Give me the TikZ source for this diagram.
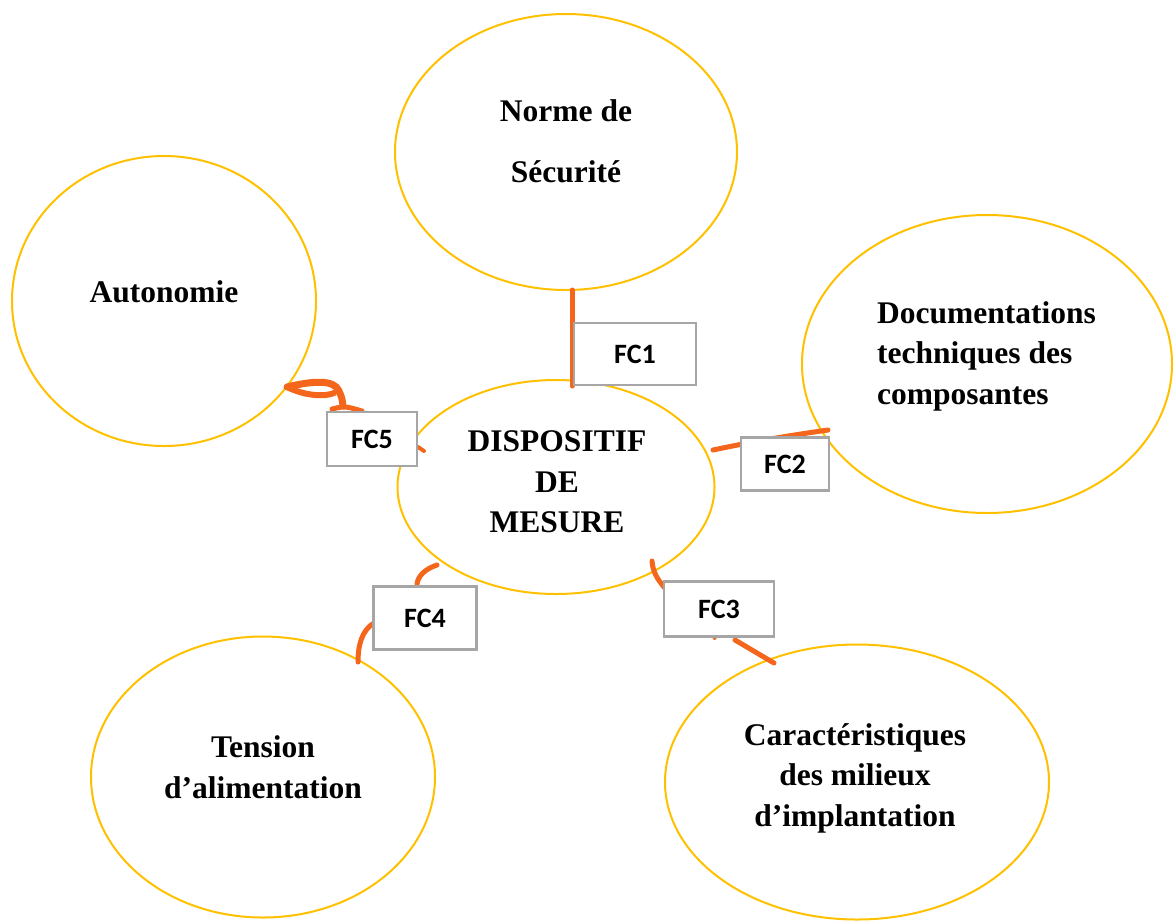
\documentclass[tikz,border=0pt]{standalone}
\usepackage{fontspec}
\setmainfont{Liberation Serif}
\newfontfamily\fcfont{Carlito}
\usetikzlibrary{shapes.geometric}
\definecolor{ringgold}{RGB}{255,192,0}
\definecolor{linkorange}{RGB}{244,102,27}
\definecolor{boxgray}{RGB}{166,166,166}
\begin{document}
\begin{tikzpicture}[x=1pt,y=-1pt,
  bubble/.style={ellipse,draw=ringgold,line width=2pt,inner sep=0pt},
  bubbletext/.style={font=\fontsize{31.5}{40.5}\selectfont\bfseries,inner sep=0pt},
  fcbox/.style={draw=boxgray,fill=white,line width=2.4pt,inner sep=0pt,
    font=\fcfont\fontsize{28}{30}\selectfont\bfseries},
  link/.style={draw=linkorange,line width=5pt,line cap=round}]
\useasboundingbox (0,0) rectangle (1174,922);

% the six bubbles
\node[bubble,minimum width=342pt,minimum height=276pt] (norme) at (566,152) {};
\node[bubble,minimum width=304pt,minimum height=290pt] (auto) at (164,301) {};
\node[bubble,minimum width=370pt,minimum height=298pt] (docs) at (987,364) {};
\node[bubble,minimum width=317pt,minimum height=214pt] (disp) at (556,487) {};
\node[bubble,minimum width=344pt,minimum height=281pt] (tension) at (263,777) {};
\node[bubble,minimum width=384pt,minimum height=275pt] (milieux) at (857,782) {};

% bubble labels
\node[bubbletext,align=center,font=\fontsize{31.5}{61}\selectfont\bfseries] (normetxt) at (566,141) {Norme de\\Sécurité};
\node[bubbletext] (autotxt) at (164,292) {Autonomie};
\node[bubbletext,align=left,anchor=west] (docstxt) at (877,356) {Documentations\\techniques des\\composantes};
\node[bubbletext,align=center] (disptxt) at (557,482) {DISPOSITIF\\DE\\MESURE};
\node[bubbletext,align=center] (tensiontxt) at (263,767) {Tension\\d’alimentation};
\node[bubbletext,align=center] (milieuxtxt) at (855,778) {Caractéristiques\\des milieux\\d’implantation};

% ends of the hand-drawn links
\coordinate (l1a) at (572,290);
\coordinate (l1b) at (572,386);
\coordinate (l2a) at (713,450);
\coordinate (l2b) at (828,430);
\coordinate (l3a) at (652,561);
\coordinate (l3b) at (668,592);
\coordinate (l3c) at (714,638);
\coordinate (l3d) at (735,640);
\coordinate (l3e) at (774,663);
\coordinate (l4a) at (437,565);
\coordinate (l4b) at (417,584);
\coordinate (l4c) at (374,623);
\coordinate (l4d) at (358,662);
\coordinate (l5a) at (287,387);
\coordinate (l5b) at (343,406);
\coordinate (l5c) at (334,393);
\coordinate (l5d) at (332,409);
\coordinate (l5e) at (362,411);
\coordinate (l5f) at (418,447);
\coordinate (l5g) at (424,451);

% links
\draw[link] (l1a) -- (l1b);
\draw[link] (l2a) .. controls (760,440) and (800,434) .. (l2b);
\draw[link] (l3a) .. controls (653,575) and (660,582) .. (l3b);
\draw[link,line width=3pt] (l3c) -- ++(1,0);
\draw[link] (l3d) -- (l3e);
\draw[link] (l4a) .. controls (425,569) and (418,576) .. (l4b);
\draw[link] (l4c) .. controls (362,630) and (358,645) .. (l4d);
\draw[link,line width=7pt] (l5a) .. controls (312,381) and (334,379) .. (339,391) .. controls (342,398) .. (l5b);
\draw[link,line width=6pt] (l5a) .. controls (305,396) and (325,397) .. (l5c);
\draw[link] (l5d) .. controls (345,406) .. (l5e);
\draw[link,line width=4pt] (l5f) -- (l5g);

% function boxes
\node[fcbox,minimum width=122pt,minimum height=62pt] (fc1) at (635,354) {FC1};
\node[fcbox,minimum width=88pt,minimum height=53pt] (fc2) at (785,464) {FC2};
\node[fcbox,minimum width=110pt,minimum height=55pt] (fc3) at (719,609) {FC3};
\node[fcbox,minimum width=103pt,minimum height=63pt] (fc4) at (425,618) {FC4};
\node[fcbox,minimum width=90pt,minimum height=54pt] (fc5) at (372,439) {FC5};
\end{tikzpicture}
\end{document}
